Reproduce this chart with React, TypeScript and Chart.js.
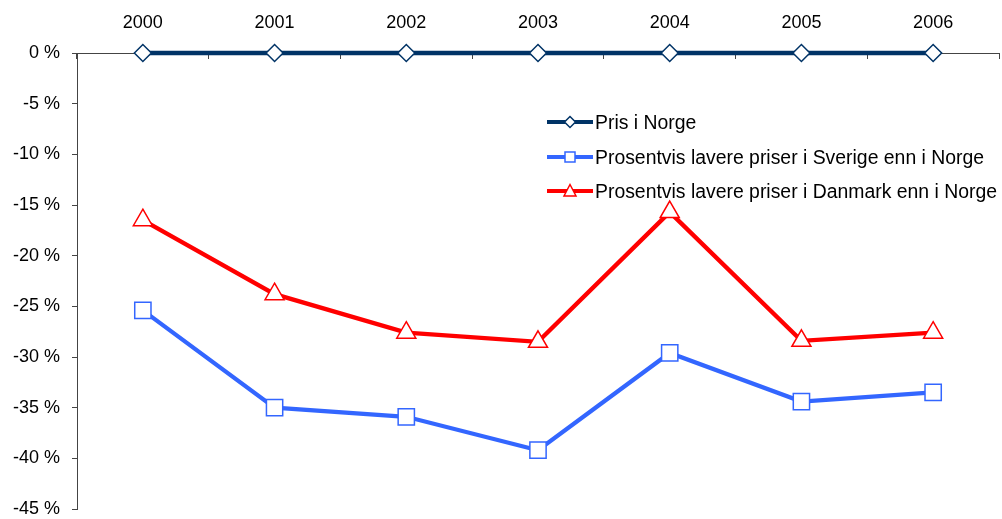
import React, { useEffect, useRef } from 'react';
import { Chart, registerables } from 'chart.js';

Chart.register(...registerables);

const years = ['2000', '2001', '2002', '2003', '2004', '2005', '2006'];
const norge = [0, 0, 0, 0, 0, 0, 0];
const sverige = [-25.4, -35.0, -35.9, -39.2, -29.6, -34.4, -33.5];
const danmark = [-16.5, -23.8, -27.6, -28.5, -15.7, -28.4, -27.6];
const seriesLabels = [
  'Pris i Norge',
  'Prosentvis lavere priser i Sverige enn i Norge',
  'Prosentvis lavere priser i Danmark enn i Norge',
];
const seriesColors = ['#003366', '#3366FF', '#FF0000'];
const seriesMarkers = ['rectRot', 'rect', 'triangle'];
const yMin = -45;
const yMax = 0;
const yStep = 5;

const FONT = '"Liberation Sans", Arial, sans-serif';

function LegendIcon({ color, marker }: { color: string; marker: string }) {
  let shape: React.ReactNode = null;
  if (marker === 'rectRot') {
    shape = <polygon points="23,6.5 28.5,12 23,17.5 17.5,12" fill="#fff" stroke={color} strokeWidth={1.5} />;
  } else if (marker === 'rect') {
    shape = <rect x={18} y={7} width={10} height={10} fill="#fff" stroke={color} strokeWidth={1.5} />;
  } else {
    shape = <polygon points="23,5.5 29,17 17,17" fill="#fff" stroke={color} strokeWidth={1.5} />;
  }
  return (
    <svg width={46} height={24} style={{ display: 'block', flex: 'none' }}>
      <line x1={0} y1={12} x2={46} y2={12} stroke={color} strokeWidth={4} />
      {shape}
    </svg>
  );
}

export default function App() {
  const canvasRef = useRef<HTMLCanvasElement | null>(null);

  useEffect(() => {
    const canvas = canvasRef.current;
    if (!canvas) return;
    Chart.defaults.font.family = FONT;
    Chart.defaults.font.size = 18;
    Chart.defaults.color = '#000';
    const seriesData = [norge, sverige, danmark];
    const markerRadius = [8.5, 11.5, 11];
    const chart = new Chart(canvas, {
      type: 'line',
      data: {
        labels: years,
        datasets: seriesData.map((d, i) => ({
          label: seriesLabels[i],
          data: d,
          borderColor: seriesColors[i],
          backgroundColor: '#fff',
          borderWidth: 4.3,
          pointStyle: seriesMarkers[i] as any,
          pointRadius: markerRadius[i],
          pointHoverRadius: markerRadius[i],
          pointBorderWidth: 1.5,
          pointBorderColor: seriesColors[i],
          pointBackgroundColor: '#fff',
          tension: 0,
          clip: false as any,
        })),
      },
      options: {
        responsive: false,
        animation: false,
        devicePixelRatio: 1,
        layout: { padding: { left: 0, top: 0, right: 3, bottom: 5 } },
        plugins: {
          legend: { display: false },
          tooltip: { enabled: false },
        },
        scales: {
          x: {
            position: 'top',
            offset: true,
            grid: {
              offset: true,
              drawOnChartArea: false,
              drawTicks: true,
              tickLength: -6,
              color: '#444',
              lineWidth: 1,
            },
            border: { display: true, color: '#444', width: 1 },
            ticks: { padding: 25, color: '#000', font: { size: 18, family: FONT } },
            afterFit: (s: any) => {
              s.height = 53;
              s.paddingLeft = 0;
              s.paddingRight = 0;
            },
          },
          y: {
            min: yMin,
            max: yMax,
            grid: {
              drawOnChartArea: false,
              drawTicks: true,
              tickLength: 5,
              color: '#444',
              lineWidth: 1,
            },
            border: { display: true, color: '#444', width: 1 },
            ticks: {
              stepSize: yStep,
              padding: 12,
              color: '#000',
              font: { size: 18, family: FONT },
              callback: (v: any) => `${v} %`,
            },
            afterFit: (s: any) => {
              s.width = 77;
              s.paddingTop = 0;
              s.paddingBottom = 0;
            },
          },
        },
      },
    });
    return () => chart.destroy();
  }, []);

  const rowCenters = [122, 157, 191];

  return (
    <div
      style={{
        position: 'fixed',
        left: 0,
        top: 0,
        width: 1002,
        height: 519,
        overflow: 'hidden',
        background: '#fff',
      }}
    >
      <canvas ref={canvasRef} width={1012} height={522} style={{ display: 'block', width: 1012, height: 522 }} />
      {seriesLabels.map((lab, i) => (
        <div
          key={lab}
          style={{
            position: 'absolute',
            left: 547,
            top: rowCenters[i] - 12,
            height: 24,
            display: 'flex',
            alignItems: 'center',
            whiteSpace: 'nowrap',
            fontFamily: FONT,
            fontSize: 19.4,
            color: '#000',
          }}
        >
          <LegendIcon color={seriesColors[i]} marker={seriesMarkers[i]} />
          <span style={{ marginLeft: 2 }}>{lab}</span>
        </div>
      ))}
    </div>
  );
}
